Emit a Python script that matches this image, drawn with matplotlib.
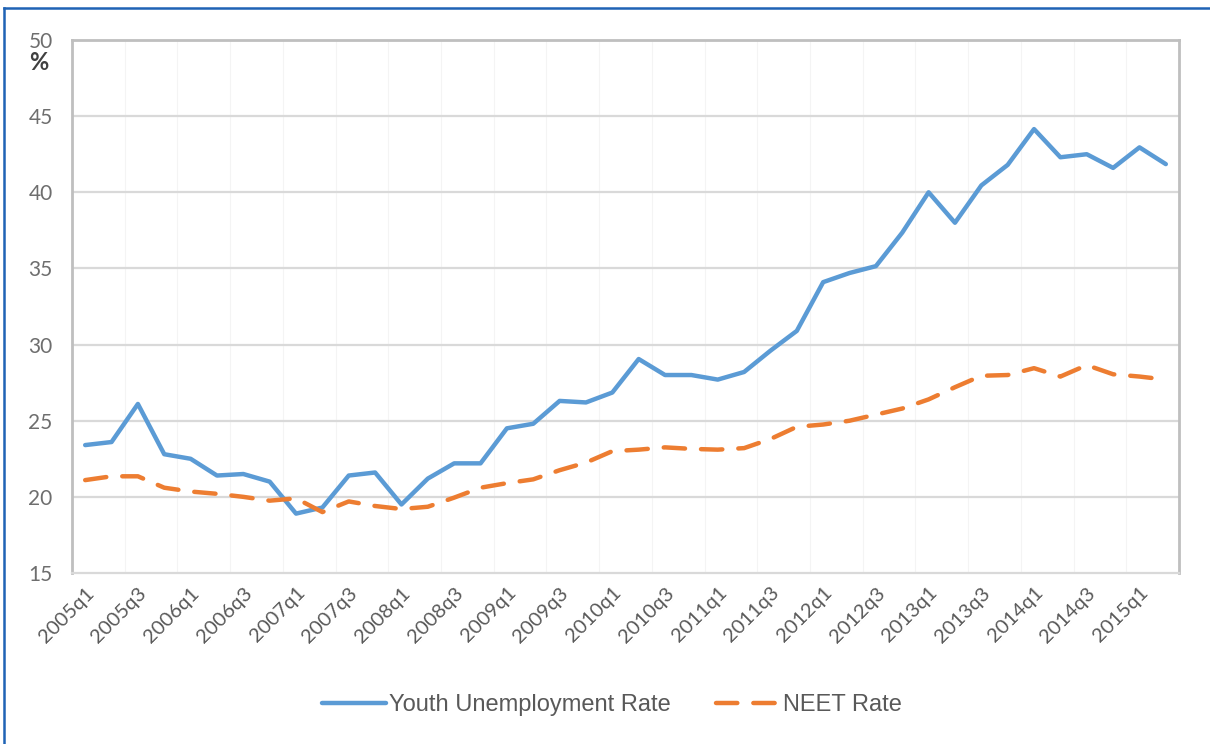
import matplotlib.pyplot as plt
from matplotlib.lines import Line2D

# quarterly series, 2005q1 .. 2015q2
quarters = ['%dq%d' % (y, q) for y in range(2005, 2016) for q in range(1, 5)][:42]

youth_unemployment = [23.4, 23.6, 26.1, 22.8, 22.5, 21.4, 21.5, 21.0, 18.9, 19.3,
                      21.4, 21.6, 19.5, 21.2, 22.2, 22.2, 24.5, 24.8, 26.3, 26.2,
                      26.85, 29.05, 28.0, 28.0, 27.7, 28.2, 29.6, 30.9, 34.1, 34.7,
                      35.15, 37.35, 40.0, 38.0, 40.45, 41.8, 44.15, 42.3, 42.5, 41.6,
                      42.95, 41.85]
neet = [21.1, 21.35, 21.35, 20.6, 20.35, 20.2, 20.0, 19.75, 19.9, 19.0,
        19.7, 19.4, 19.2, 19.35, 19.95, 20.6, 20.9, 21.15, 21.75, 22.25,
        23.0, 23.1, 23.25, 23.15, 23.1, 23.2, 23.8, 24.6, 24.75, 25.0,
        25.4, 25.8, 26.4, 27.2, 27.95, 28.0, 28.45, 27.9, 28.65, 28.05,
        27.9, 27.7]

tick_font = ['Lato', 'DejaVu Sans']
legend_font = ['Liberation Sans Narrow', 'Liberation Sans', 'DejaVu Sans']
grey = '#595959'

fig = plt.figure(figsize=(12.1, 7.44), dpi=100)
ax = fig.add_axes([72 / 1210, 1 - 573 / 744, 1107 / 1210, 533 / 744])

x = list(range(len(quarters)))
ax.plot(x, youth_unemployment, color='#5B9BD5', lw=3.2, solid_joinstyle='round',
        solid_capstyle='round', label='Youth Unemployment Rate', zorder=3)
ax.plot(x, neet, color='#ED7D31', lw=3.2, dashes=(4.8, 3.6), dash_capstyle='round',
        label='NEET Rate', zorder=3)

ax.set_xlim(-0.5, len(quarters) - 0.5)
ax.set_ylim(15, 50)
ax.set_yticks(range(15, 51, 5))

# labels on every second quarter, faint separators between pairs
ax.set_xticks(x[::2])
ax.set_xticklabels(quarters[::2], rotation=45, ha='right', va='top',
                   rotation_mode='anchor', fontsize=14.5, color=grey, family=tick_font)
for b in range(2, len(quarters), 2):
    ax.axvline(b - 0.5, color='#F4F4F4', lw=0.8, zorder=0)
for t in range(20, 50, 5):
    ax.axhline(t, color='#D9D9D9', lw=1.6, zorder=1)

ax.tick_params(axis='x', length=0, pad=8)
ax.tick_params(axis='y', length=0, pad=14, labelsize=15, labelcolor='#6E6E6E')
for lab in ax.get_yticklabels():
    lab.set_family(tick_font)

for side in ['top', 'right', 'left']:
    ax.spines[side].set_color('#BFBFBF')
    ax.spines[side].set_linewidth(2)
ax.spines['bottom'].set_color('#D9D9D9')
ax.spines['bottom'].set_linewidth(1.6)

fig.text(39 / 1210, 1 - 63 / 744, '%', fontsize=17, fontweight='bold',
         color='#404040', ha='center', va='center', family=tick_font)

fig.legend(loc='center', bbox_to_anchor=(612 / 1210, 1 - 705 / 744), ncol=2,
           frameon=False, handlelength=2.7, handletextpad=0.15, columnspacing=1.9,
           prop={'family': legend_font, 'size': 17}, labelcolor=grey)

# blue frame around the figure
fig.add_artist(Line2D([3.5 / 1210, 3.5 / 1210], [0, 1 - 8 / 744], color='#1F63B5',
                      lw=1.8, transform=fig.transFigure))
fig.add_artist(Line2D([3.5 / 1210, 1], [1 - 8 / 744, 1 - 8 / 744], color='#1F63B5',
                      lw=1.8, transform=fig.transFigure))

fig.savefig('out.png', dpi=100)
